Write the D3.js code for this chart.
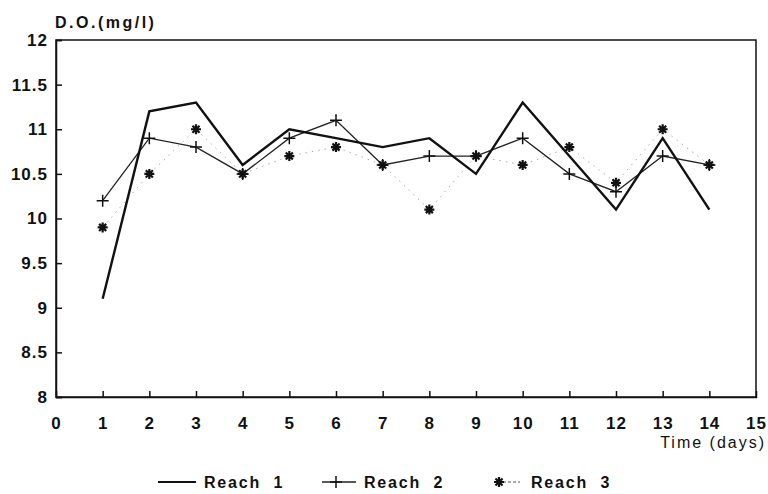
<!DOCTYPE html>
<html>
<head>
<meta charset="utf-8">
<script src="https://cdn.jsdelivr.net/npm/d3@7"></script>
<style>
  body { margin: 0; background: #fff; }
  svg text { font-family: "Liberation Sans", Arial, sans-serif; fill: #111; }
</style>
</head>
<body>
<svg id="chart" width="768" height="494"></svg>
<script>
// days on the x axis
const days = [1, 2, 3, 4, 5, 6, 7, 8, 9, 10, 11, 12, 13, 14];
// dissolved oxygen (mg/l) per reach
const reach1 = [9.1, 11.2, 11.3, 10.6, 11.0, 10.9, 10.8, 10.9, 10.5, 11.3, 10.7, 10.1, 10.9, 10.1];
const reach2 = [10.2, 10.9, 10.8, 10.5, 10.9, 11.1, 10.6, 10.7, 10.7, 10.9, 10.5, 10.3, 10.7, 10.6];
const reach3 = [9.9, 10.5, 11.0, 10.5, 10.7, 10.8, 10.6, 10.1, 10.7, 10.6, 10.8, 10.4, 11.0, 10.6];
const xTicks = d3.range(0, 16);
const yTicks = [8, 8.5, 9, 9.5, 10, 10.5, 11, 11.5, 12];
const legendLabels = ['Reach  1', 'Reach  2', 'Reach  3'];

const margin = { top: 40, right: 12, bottom: 97, left: 56 };
const svg = d3.select('#chart');
const width = +svg.attr('width') - margin.left - margin.right;
const height = +svg.attr('height') - margin.top - margin.bottom;

const g = svg.append('g')
  .attr('transform', `translate(${margin.left},${margin.top})`);

const x = d3.scaleLinear().domain([0, 15]).range([0, width]);
const y = d3.scaleLinear().domain([8, 12]).range([height, 0]);

// frame
g.append('rect')
  .attr('width', width).attr('height', height)
  .attr('fill', 'none').attr('stroke', '#111').attr('stroke-width', 1.5);

// axes (ticks point inward)
const xAxis = g.append('g')
  .attr('transform', `translate(0,${height})`)
  .call(d3.axisBottom(x).tickValues(xTicks).tickSize(-6).tickPadding(20).tickFormat(d3.format('d')));
const yAxis = g.append('g')
  .call(d3.axisLeft(y).tickValues(yTicks).tickSize(-6).tickPadding(8).tickFormat(d => d));

[xAxis, yAxis].forEach(a => {
  a.select('.domain').attr('stroke', '#111').attr('stroke-width', 1.5);
  a.selectAll('.tick line').attr('stroke', '#111').attr('stroke-width', 1.5);
  a.selectAll('.tick text')
    .attr('fill', '#111')
    .style('font-size', '17px')
    .style('font-weight', 'bold')
    .style('letter-spacing', '1px')
    .style('font-family', '"Liberation Sans", Arial, sans-serif');
});
xAxis.selectAll('.tick').filter(d => d === 0 || d === 15).select('line').remove();

// axis titles
svg.append('text')
  .attr('x', 55).attr('y', 28)
  .style('font-size', '16px').style('font-weight', 'bold')
  .style('letter-spacing', '2.5px')
  .text('D.O.(mg/l)');
svg.append('text')
  .attr('x', 766).attr('y', 448)
  .attr('text-anchor', 'end')
  .style('font-size', '16px').style('letter-spacing', '2px')
  .text('Time (days)');

const line = d3.line().x((d, i) => x(days[i])).y(d => y(d));

// reach 3: faint dotted
g.append('path').datum(reach3)
  .attr('d', line).attr('fill', 'none')
  .attr('stroke', '#aaa').attr('stroke-width', 1).attr('stroke-dasharray', '1.5,5');
// reach 2: thin line with plus markers
g.append('path').datum(reach2)
  .attr('d', line).attr('fill', 'none')
  .attr('stroke', '#222').attr('stroke-width', 1.3);
// reach 1: heavy line
g.append('path').datum(reach1)
  .attr('d', line).attr('fill', 'none')
  .attr('stroke', '#111').attr('stroke-width', 2.4).attr('stroke-linejoin', 'miter');

const plusPath = s => `M${-s},0H${s}M0,${-s}V${s}`;
const starPath = s => {
  let p = '';
  for (let k = 0; k < 4; k++) {
    const a = k * Math.PI / 4;
    p += `M${-s * Math.cos(a)},${-s * Math.sin(a)}L${s * Math.cos(a)},${s * Math.sin(a)}`;
  }
  return p;
};

g.selectAll('path.plus').data(reach2).enter()
  .append('path').attr('class', 'plus')
  .attr('transform', (d, i) => `translate(${x(days[i])},${y(d)})`)
  .attr('d', plusPath(6)).attr('stroke', '#111').attr('stroke-width', 1.5);

g.selectAll('path.star').data(reach3).enter()
  .append('path').attr('class', 'star')
  .attr('transform', (d, i) => `translate(${x(days[i])},${y(d)})`)
  .attr('d', starPath(5)).attr('stroke', '#111').attr('stroke-width', 2.2);

// legend
const lg = svg.append('g').attr('transform', 'translate(0,482)');
const legendX = [158, 322, 490];
lg.append('line').attr('x1', legendX[0]).attr('x2', legendX[0] + 38)
  .attr('stroke', '#111').attr('stroke-width', 2.2);
lg.append('line').attr('x1', legendX[1]).attr('x2', legendX[1] + 34)
  .attr('stroke', '#222').attr('stroke-width', 1.3);
lg.append('path').attr('transform', `translate(${legendX[1] + 14},0)`)
  .attr('d', plusPath(6)).attr('stroke', '#111').attr('stroke-width', 1.5);
lg.append('line').attr('x1', legendX[2] + 8).attr('x2', legendX[2] + 30)
  .attr('stroke', '#555').attr('stroke-width', 1).attr('stroke-dasharray', '3,2');
lg.append('path').attr('transform', `translate(${legendX[2] + 9},0)`)
  .attr('d', starPath(5)).attr('stroke', '#111').attr('stroke-width', 2.2);

lg.selectAll('text.leg').data(legendLabels).enter()
  .append('text').attr('class', 'leg')
  .attr('x', (d, i) => [204, 364, 531][i]).attr('y', 6)
  .style('font-size', '16px').style('font-weight', 'bold')
  .style('letter-spacing', '1.8px').style('white-space', 'pre')
  .attr('xml:space', 'preserve')
  .text(d => d);
</script>
</body>
</html>
